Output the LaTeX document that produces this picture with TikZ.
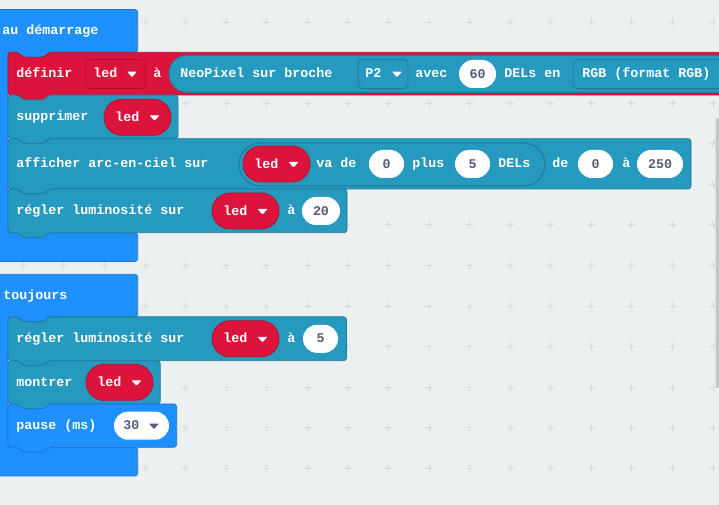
\documentclass[tikz,border=0pt]{standalone}
\usepackage{fontspec}
\setmonofont{Liberation Mono}
\definecolor{bg}{HTML}{ECF0F1}
\definecolor{gridc}{HTML}{D5D9DC}
\definecolor{mblue}{HTML}{1E90FF}
\definecolor{mblueD}{HTML}{1A76D2}
\definecolor{mred}{HTML}{DC143C}
\definecolor{mredD}{HTML}{B0102F}
\definecolor{mteal}{HTML}{2699BF}
\definecolor{mtealD}{HTML}{1F7A99}
\definecolor{pilltxt}{HTML}{575E75}
\definecolor{sbar}{HTML}{C6C6C6}
\tikzset{
  blueblk/.style={fill=mblue, draw=mblueD, line width=0.6pt, rounded corners=2.25pt},
  redblk/.style={fill=mred, draw=mredD, line width=0.6pt, rounded corners=2.25pt},
  tealblk/.style={fill=mteal, draw=mtealD, line width=0.6pt, rounded corners=2.25pt},
  redpill/.style={fill=mred, draw=mredD, line width=0.6pt, rounded corners=13.4pt},
  tealpill/.style={fill=mteal, draw=mtealD, line width=0.75pt},
  lbl/.style={font=\ttfamily\bfseries\fontsize{10}{12}\selectfont, text=white, inner sep=0pt, anchor=base west},
  ptxt/.style={font=\ttfamily\bfseries\fontsize{10}{12}\selectfont, text=pilltxt, inner sep=0pt, anchor=base},
  gridline/.style={draw=gridc, line width=0.7pt},
}
\newcommand\stmtblk[5]{\draw[#1] (#2,#3) -- (#2+10,#3) -- (#2+15,#3+5) -- (#2+36,#3+5) -- (#2+41,#3) -- (#4,#3) -- (#4,#5) -- (#2+41,#5) -- (#2+36,#5+5) -- (#2+15,#5+5) -- (#2+10,#5) -- (#2,#5) -- cycle;}
\newcommand\hatblk[4]{\draw[blueblk] (-10,#1) -- (137.7,#1) -- (137.7,#2) -- (49,#2) -- (44,#2+5) -- (23,#2+5) -- (18,#2) -- (8,#2) -- (8,#3) -- (137.7,#3) -- (137.7,#4) -- (-10,#4) -- cycle;}
\newcommand\tri[3]{\fill[#1, rounded corners=0.6pt] (#2,#3-2) -- (#2+10,#3-2) -- (#2+5,#3+3.5) -- cycle;}
\newcommand\varpill[3]{%
  \draw[redpill] (#2,#3-18) rectangle (#2+67,#3+18);
  \node[lbl] (#1) at (#2+11,#3+4.1) {led};
  \tri{white}{#2+45.5}{#3}}
\newcommand\numpill[5]{%
  \fill[white, rounded corners=10.4pt] (#2,#4-14) rectangle (#3,#4+14);
  \node[ptxt] (#1) at ({(#2+#3)/2},#4+4.1) {#5};}
\begin{document}
\begin{tikzpicture}[x=0.75pt,y=-0.75pt]
\fill[bg] (0,0) rectangle (719,505);
\useasboundingbox (0,0) rectangle (719,505);
% grid crosses
\foreach \i in {-3,...,14}{
  \foreach \j in {0,...,12}{
    \draw[gridline] ({145+40.57*\i-3.5},{22+40.57*\j}) -- ++(7,0);
    \draw[gridline] ({145+40.57*\i},{22+40.57*\j-3.5}) -- ++(0,7);
  }}
% hats
\hatblk{9.5}{52.3}{232.7}{261.5}
\hatblk{274.3}{316.9}{447.3}{476}
\node[lbl] (hat1) at (2,35) {au démarrage};
\node[lbl] (hat2) at (3,299.6) {toujours};
% statement blocks, first hat
\stmtblk{redblk}{8}{52.3}{760}{95}
\stmtblk{tealblk}{8}{95}{178}{138.7}
\stmtblk{tealblk}{8}{138.7}{691}{189}
\stmtblk{tealblk}{8}{189}{347}{232.7}
% statement blocks, second hat
\stmtblk{tealblk}{8}{316.9}{346.5}{360.7}
\stmtblk{tealblk}{8}{360.7}{160.3}{404}
\stmtblk{blueblk}{8}{404}{176.7}{447.3}
% row: definir
\node[lbl] (def) at (16,77.7) {définir};
\draw[fill=mred, draw=mredD, line width=0.6pt, rounded corners=3pt] (86,59.5) rectangle (145,88.5);
\node[lbl] (defled) at (93,77.7) {led};
\tri{white}{127}{73.6}
\node[lbl] (defa) at (153,77.7) {à};
\draw[tealpill, rounded corners=13.6pt] (169,55.3) rectangle (760,92.3);
\node[lbl] (neo) at (180,77.7) {NeoPixel sur broche};
\draw[fill=mteal, draw=mtealD, line width=0.6pt, rounded corners=3pt] (358,59.5) rectangle (408,88.5);
\node[lbl] (p2) at (365,77.7) {P2};
\tri{white}{392}{73.6}
\node[lbl] (avec) at (415,77.7) {avec};
\numpill{n60}{459}{496}{74}{60}
\node[lbl] (delsen) at (504,77.7) {DELs en};
\draw[fill=mteal, draw=mtealD, line width=0.6pt, rounded corners=3pt] (573,59.5) rectangle (760,88.5);
\node[lbl] (rgb) at (582,77.7) {RGB (format RGB)};
% row: supprimer
\node[lbl] (supp) at (16,121) {supprimer};
\varpill{suppled}{104}{117.3}
% row: afficher
\node[lbl] (aff) at (16,168) {afficher arc-en-ciel sur};
\draw[tealpill, rounded corners=16pt] (239,143) rectangle (545,186);
\varpill{affled}{243}{164}
\node[lbl] (vade) at (316,168) {va de};
\numpill{n0a}{369}{404}{164}{0}
\node[lbl] (plus) at (412,168) {plus};
\numpill{n5a}{455}{490}{164}{5}
\node[lbl] (dels) at (498,168) {DELs};
\node[lbl] (de) at (552,168) {de};
\numpill{n0b}{578}{613}{164}{0}
\node[lbl] (affa) at (622,168) {à};
\numpill{n250}{637}{683}{164}{250}
% row: regler 1
\node[lbl] (reg1) at (16,215) {régler luminosité sur};
\varpill{reg1led}{212}{211}
\node[lbl] (reg1a) at (287,215) {à};
\numpill{n20}{302}{340}{211}{20}
% row: regler 2
\node[lbl] (reg2) at (16,342.8) {régler luminosité sur};
\varpill{reg2led}{212}{338.8}
\node[lbl] (reg2a) at (287,342.8) {à};
\numpill{n5b}{303}{338}{338.8}{5}
% row: montrer
\node[lbl] (montrer) at (16,386.3) {montrer};
\varpill{montled}{86}{382.3}
% row: pause
\node[lbl] (pause) at (16,429.6) {pause (ms)};
\fill[white, rounded corners=10.4pt] (114,411.7) rectangle (169,439.7);
\node[ptxt, anchor=base west] (n30) at (123,429.6) {30};
\tri{pilltxt}{149}{425.6}
% scrollbar
\fill[sbar, rounded corners=2pt] (715.5,118) rectangle (730,388);
\end{tikzpicture}
\end{document}
